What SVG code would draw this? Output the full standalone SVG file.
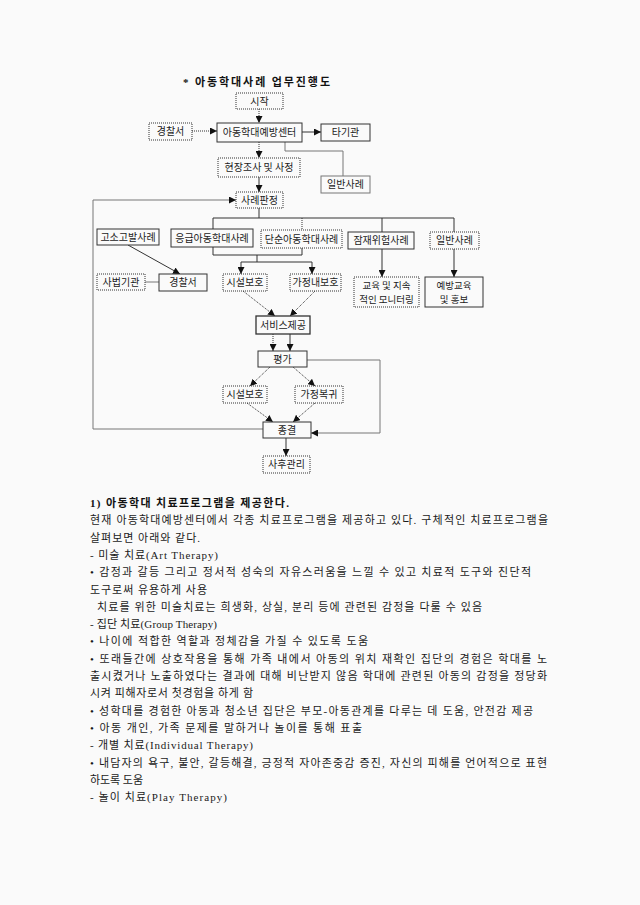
<svg xmlns="http://www.w3.org/2000/svg" width="640" height="905" viewBox="0 0 640 905">
<style>
.bx{fill:#fafafa;stroke:#333;stroke-width:1}
.dt{fill:#fafafa;stroke:#333;stroke-width:1;stroke-dasharray:1,1}
.lb{font-family:"Noto Sans CJK KR","Liberation Sans",sans-serif;font-size:10px;fill:#1a1a1a;text-anchor:middle}
.l2{font-size:9.5px}
.ln{fill:none;stroke:#333;stroke-width:1}
.ld{fill:none;stroke:#333;stroke-width:1;stroke-dasharray:1,1}
.lg{fill:none;stroke:#777;stroke-width:1}
.tx{font-family:"Liberation Serif","Noto Sans CJK KR",serif;font-size:11px;fill:#1a1a1a}
.tt{font-family:"Liberation Serif","Noto Sans CJK KR",serif;font-size:11px;font-weight:bold;fill:#111}
</style>
<defs>
<marker id="ah" viewBox="0 0 8 8" refX="8" refY="4" markerWidth="7" markerHeight="7" orient="auto" markerUnits="userSpaceOnUse"><path d="M0,0 L8,4 L0,8 z" fill="#111"/></marker>
</defs>
<rect width="640" height="905" fill="#fafafa"/>
<text class="tt" x="183" y="86" textLength="147" lengthAdjust="spacing">*  아동학대사례  업무진행도</text>

<g id="connectors">
<line class="ld" x1="259" y1="109" x2="259" y2="123" marker-end="url(#ah)"/>
<line class="ld" x1="192" y1="131" x2="217" y2="131" marker-end="url(#ah)"/>
<line class="ln" x1="302" y1="132" x2="321" y2="132" marker-end="url(#ah)"/>
<polyline class="lg" points="285,142 285,151 343,151 343,176"/>
<line class="ld" x1="259" y1="142" x2="259" y2="158" marker-end="url(#ah)"/>
<line class="ln" x1="259" y1="177" x2="259" y2="192" marker-end="url(#ah)"/>
<line class="ln" x1="259" y1="208" x2="259" y2="218"/>
<line class="ln" x1="213" y1="218" x2="454" y2="218"/>
<line class="ln" x1="213" y1="218" x2="213" y2="229"/>
<line class="ld" x1="302" y1="218" x2="302" y2="230"/>
<line class="ln" x1="382" y1="218" x2="382" y2="232"/>
<line class="ln" x1="454" y1="218" x2="454" y2="232"/>
<line class="ln" x1="382" y1="249" x2="382" y2="277" marker-end="url(#ah)"/>
<line class="ln" x1="454" y1="249" x2="454" y2="277" marker-end="url(#ah)"/>
<polyline class="ln" points="213,247 213,255 302,255 302,248"/>
<line class="ln" x1="257" y1="255" x2="257" y2="262"/>
<line class="ln" x1="241" y1="262" x2="312" y2="262"/>
<line class="ln" x1="241" y1="262" x2="241" y2="274" marker-end="url(#ah)"/>
<line class="ln" x1="312" y1="262" x2="312" y2="274" marker-end="url(#ah)"/>
<line class="ln" x1="128" y1="245" x2="180" y2="274" marker-end="url(#ah)"/>
<line class="lg" x1="145" y1="282" x2="159" y2="282"/>
<line class="ld" x1="243" y1="291" x2="275" y2="316" marker-end="url(#ah)"/>
<line class="ld" x1="315" y1="291" x2="290" y2="316" marker-end="url(#ah)"/>
<line class="ld" x1="273" y1="334" x2="273" y2="351" marker-end="url(#ah)"/>
<line class="ln" x1="290" y1="334" x2="290" y2="351" marker-end="url(#ah)"/>
<line class="ld" x1="270" y1="367" x2="250" y2="386" marker-end="url(#ah)"/>
<line class="ld" x1="293" y1="367" x2="315" y2="386" marker-end="url(#ah)"/>
<line class="ld" x1="247" y1="403" x2="273" y2="422" marker-end="url(#ah)"/>
<line class="ld" x1="315" y1="403" x2="293" y2="422" marker-end="url(#ah)"/>
<polyline class="lg" points="307,360 380,360 380,433 311,433" marker-end="url(#ah)"/>
<line class="ln" x1="286" y1="438" x2="286" y2="456" marker-end="url(#ah)"/>
<polyline class="lg" points="263,429 93,429 93,200 236,200" marker-end="url(#ah)"/>
</g>

<g id="n-start"><rect class="dt" x="236" y="93" width="47" height="16"/><text class="lb" x="259.5" y="105">시작</text></g>
<g id="n-police1"><rect class="dt" x="149" y="123" width="43" height="17"/><text class="lb" x="170.5" y="135">경찰서</text></g>
<g id="n-center"><rect class="bx" x="217" y="123" width="85" height="19"/><text class="lb" x="259.5" y="136">아동학대예방센터</text></g>
<g id="n-other"><rect class="bx" x="321" y="124" width="49" height="17"/><text class="lb" x="345.5" y="136">타기관</text></g>
<g id="n-survey"><rect class="dt" x="218" y="158" width="82" height="19"/><text class="lb" x="259" y="171">현장조사 및 사정</text></g>
<g id="n-general1"><rect class="bx" x="321" y="176" width="49" height="17" style="stroke:#777"/><text class="lb" x="345.5" y="188">일반사례</text></g>
<g id="n-judge"><rect class="dt" x="236" y="192" width="47" height="16"/><text class="lb" x="259.5" y="204">사례판정</text></g>
<g id="n-accuse"><rect class="bx" x="97" y="229" width="62" height="16"/><text class="lb" x="128" y="241">고소고발사례</text></g>
<g id="n-emerg"><rect class="bx" x="171" y="229" width="82" height="18"/><text class="lb" x="212" y="242">응급아동학대사례</text></g>
<g id="n-simple"><rect class="dt" x="261" y="230" width="81" height="18"/><text class="lb" x="301.5" y="243">단순아동학대사례</text></g>
<g id="n-latent"><rect class="bx" x="348" y="232" width="66" height="17"/><text class="lb" x="381" y="244">잠재위험사례</text></g>
<g id="n-general2"><rect class="dt" x="430" y="232" width="49" height="17"/><text class="lb" x="454.5" y="244">일반사례</text></g>
<g id="n-judicial"><rect class="dt" x="97" y="274" width="48" height="16"/><text class="lb" x="121" y="286">사법기관</text></g>
<g id="n-police2"><rect class="bx" x="159" y="274" width="48" height="17"/><text class="lb" x="183" y="286">경찰서</text></g>
<g id="n-shelter1"><rect class="dt" x="223" y="274" width="44" height="17"/><text class="lb" x="245" y="286">시설보호</text></g>
<g id="n-home"><rect class="dt" x="290" y="274" width="51" height="17"/><text class="lb" x="315.5" y="286">가정내보호</text></g>
<g id="n-edu"><rect class="dt" x="354" y="277" width="65" height="30"/><text class="lb l2" x="386.5" y="288.5">교육 및 지속</text><text class="lb l2" x="386.5" y="302.5">적인 모니터링</text></g>
<g id="n-prev"><rect class="bx" x="425" y="277" width="58" height="30"/><text class="lb l2" x="454" y="288.5">예방교육</text><text class="lb l2" x="454" y="302.5">및 홍보</text></g>
<g id="n-service"><rect class="bx" x="256" y="316" width="54" height="18" style="stroke-width:1.3"/><text class="lb" x="283" y="329">서비스제공</text></g>
<g id="n-eval"><rect class="bx" x="258" y="351" width="49" height="16"/><text class="lb" x="282.5" y="363">평가</text></g>
<g id="n-shelter2"><rect class="dt" x="223" y="386" width="44" height="17"/><text class="lb" x="245" y="398">시설보호</text></g>
<g id="n-return"><rect class="dt" x="295" y="386" width="48" height="17"/><text class="lb" x="319" y="398">가정복귀</text></g>
<g id="n-end"><rect class="bx" x="263" y="422" width="48" height="16"/><text class="lb" x="287" y="434">종결</text></g>
<g id="n-after"><rect class="dt" x="263" y="456" width="47" height="17"/><text class="lb" x="286.5" y="468">사후관리</text></g>

<g id="body">
<text class="tt" x="90" y="507" textLength="199" lengthAdjust="spacing">1) 아동학대 치료프로그램을 제공한다.</text>
<text class="tx" x="90" y="524.3" textLength="458" lengthAdjust="spacing">현재 아동학대예방센터에서 각종 치료프로그램을 제공하고 있다. 구체적인 치료프로그램을</text>
<text class="tx" x="90" y="541.6" textLength="110" lengthAdjust="spacing">살펴보면 아래와 같다.</text>
<text class="tx" x="90" y="558.9" textLength="128" lengthAdjust="spacing">- 미술 치료(Art Therapy)</text>
<text class="tx" x="90" y="576.2" textLength="441" lengthAdjust="spacing">•  감정과 갈등 그리고 정서적 성숙의 자유스러움을 느낄 수 있고 치료적 도구와 진단적</text>
<text class="tx" x="90" y="593.5" textLength="117" lengthAdjust="spacing">도구로써 유용하게 사용</text>
<text class="tx" x="97" y="610.8" textLength="385" lengthAdjust="spacing">치료를 위한 미술치료는 희생화, 상실, 분리 등에 관련된 감정을 다룰 수 있음</text>
<text class="tx" x="90" y="628.1" textLength="127" lengthAdjust="spacing">- 집단 치료(Group Therapy)</text>
<text class="tx" x="90" y="645.4" textLength="278" lengthAdjust="spacing">•  나이에 적합한 역할과 정체감을 가질 수 있도록 도움</text>
<text class="tx" x="90" y="662.7" textLength="457" lengthAdjust="spacing">•  또래들간에 상호작용을 통해 가족 내에서 아동의 위치 재확인 집단의 경험은 학대를 노</text>
<text class="tx" x="90" y="680" textLength="457" lengthAdjust="spacing">출시켰거나 노출하였다는 결과에 대해 비난받지 않음 학대에 관련된 아동의 감정을 정당화</text>
<text class="tx" x="90" y="697.3" textLength="163" lengthAdjust="spacing">시켜 피해자로서 첫경험을 하게 함</text>
<text class="tx" x="90" y="714.6" textLength="443" lengthAdjust="spacing">•  성학대를 경험한 아동과 청소년 집단은 부모-아동관계를 다루는 데 도움, 안전감 제공</text>
<text class="tx" x="90" y="731.9" textLength="272" lengthAdjust="spacing">•  아동 개인, 가족 문제를 말하거나 놀이를 통해 표출</text>
<text class="tx" x="90" y="749.2" textLength="163" lengthAdjust="spacing">- 개별 치료(Individual Therapy)</text>
<text class="tx" x="90" y="766.5" textLength="457" lengthAdjust="spacing">•  내담자의 욕구, 불안, 갈등해결, 긍정적 자아존중감 증진, 자신의 피해를 언어적으로 표현</text>
<text class="tx" x="90" y="783.8" textLength="53" lengthAdjust="spacing">하도록 도움</text>
<text class="tx" x="90" y="801.1" textLength="137" lengthAdjust="spacing">- 놀이 치료(Play Therapy)</text>
</g>
</svg>
